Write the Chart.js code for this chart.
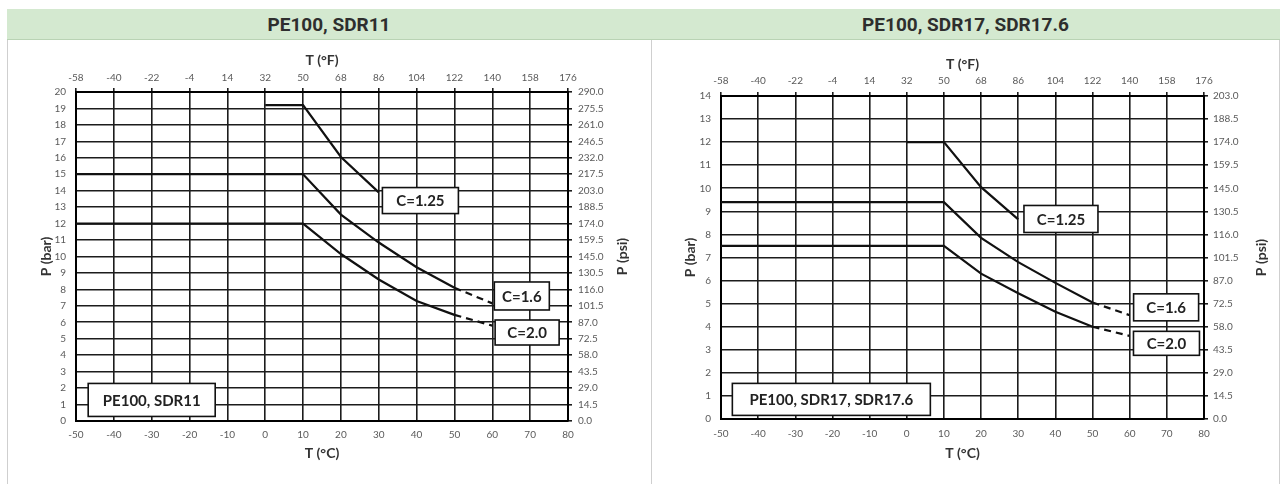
<!DOCTYPE html>
<html>
<head>
    <title>PE100 pressure / temperature derating</title>
    <script src="https://cdn.jsdelivr.net/npm/chart.js"></script>
    <style>
        body {margin: 0; width: 1280px; height: 484px; overflow: hidden; background: #fff; position: relative;}
        .hdr {position: absolute; top: 9px; height: 30px; background: #d4e9d0; border-bottom: 1px solid #b9d3b4;
              font: bold 19px Roboto, sans-serif; color: #2e2e2e; text-align: center; line-height: 31px;}
        .panel {position: absolute; top: 40px; height: 444px; border-right: 1px solid #cfcfcf;}
        canvas {position: absolute; top: 1px;}
    </style>
</head>
<body>
    <div class="hdr" style="left: 7px; width: 644px;">PE100, SDR11</div>
    <div class="hdr" style="left: 651px; width: 629px;">PE100, SDR17, SDR17.6</div>
    <div class="panel" style="left: 7px; width: 643px; border-left: 1px solid #cfcfcf;">
        <canvas id="chartLeft" width="642" height="443" style="left: 0;"></canvas>
    </div>
    <div class="panel" style="left: 651px; width: 628px;">
        <canvas id="chartRight" width="627" height="443" style="left: 0;"></canvas>
    </div>
    <script>
        // tick labels
        var cTicks = [-50, -40, -30, -20, -10, 0, 10, 20, 30, 40, 50, 60, 70, 80];
        var fTicks = [-58, -40, -22, -4, 14, 32, 50, 68, 86, 104, 122, 140, 158, 176];
        var barTicks11 = [0, 1, 2, 3, 4, 5, 6, 7, 8, 9, 10, 11, 12, 13, 14, 15, 16, 17, 18, 19, 20];
        var psiTicks11 = [0, 14.5, 29, 43.5, 58, 72.5, 87, 101.5, 116, 130.5, 145, 159.5, 174, 188.5,
                          203, 217.5, 232, 246.5, 261, 275.5, 290];
        var barTicks17 = [0, 1, 2, 3, 4, 5, 6, 7, 8, 9, 10, 11, 12, 13, 14];
        var psiTicks17 = [0, 14.5, 29, 43.5, 58, 72.5, 87, 101.5, 116, 130.5, 145, 159.5, 174, 188.5, 203];

        // temperatures (°C)
        var tempShort = [0, 10, 20, 30];
        var tempLong = [-50, 10, 20, 30, 40, 50, 60];

        // SDR11 pressures (bar)
        var sdr11C125 = [19.2, 19.2, 16.05, 13.9];
        var sdr11C16 = [15.0, 15.0, 12.55, 10.85, 9.35, 8.1, 7.15];
        var sdr11C20 = [12.0, 12.0, 10.15, 8.6, 7.3, 6.45, 5.8];

        // SDR17 / SDR17.6 pressures (bar)
        var sdr17C125 = [12.0, 12.0, 10.05, 8.65];
        var sdr17C16 = [9.4, 9.4, 7.85, 6.8, 5.9, 5.05, 4.5];
        var sdr17C20 = [7.5, 7.5, 6.3, 5.45, 4.65, 4.0, 3.6];

        Chart.defaults.font.family = 'Lato, "Open Sans", sans-serif';

        function pts(xs, ys) {
            return xs.map(function(x, i) { return {x: x, y: ys[i]}; });
        }
        function curve(xs, ys) {
            return {
                data: pts(xs, ys),
                borderColor: '#111',
                borderWidth: 2.2,
                pointRadius: 0,
                fill: false,
                tension: 0,
                segment: {
                    borderDash: function(ctx) { return ctx.p0.parsed.x >= 50 ? [7, 5] : undefined; }
                }
            };
        }
        function setTicks(arr) {
            return function(scale) { scale.ticks = arr.map(function(v) { return {value: v}; }); };
        }
        function fixW(w) { return function(s) { s.width = w; }; }
        function fixH(h) { return function(s) { s.height = h; }; }

        // white label boxes, plus right axis title reading bottom-to-top
        var boxPlugin = {
            id: 'boxes',
            afterDatasetsDraw: function(chart, args, opts) {
                var ctx = chart.ctx, x = chart.scales.x, y = chart.scales.y;
                ctx.save();
                opts.items.forEach(function(b) {
                    var cx = x.getPixelForValue(b.x), cy = y.getPixelForValue(b.y);
                    ctx.fillStyle = '#fff';
                    ctx.fillRect(cx - b.w / 2, cy - b.h / 2, b.w, b.h);
                    ctx.strokeStyle = '#111';
                    ctx.lineWidth = 1.6;
                    ctx.strokeRect(cx - b.w / 2, cy - b.h / 2, b.w, b.h);
                    ctx.fillStyle = '#222';
                    ctx.font = 'bold 15px Lato, sans-serif';
                    ctx.textAlign = 'center';
                    ctx.textBaseline = 'middle';
                    ctx.fillText(b.text, cx, cy + 1);
                });
                var area = chart.chartArea;
                ctx.translate(chart.width - opts.psiOffset, (area.top + area.bottom) / 2);
                ctx.rotate(-Math.PI / 2);
                ctx.fillStyle = '#333';
                ctx.font = 'bold 14px Lato, sans-serif';
                ctx.textAlign = 'center';
                ctx.textBaseline = 'middle';
                ctx.fillText('P (psi)', 0, 0);
                ctx.restore();
            }
        };

        function makeChart(id, sets, t) {
            var tickFont = {size: 10};
            var titleFont = {size: 14, weight: 'bold'};
            var gridCol = '#1c1c1c';
            new Chart(document.getElementById(id), {
                type: 'line',
                data: {datasets: sets},
                plugins: [boxPlugin],
                options: {
                    responsive: false,
                    animation: false,
                    layout: {padding: 0},
                    plugins: {
                        legend: {display: false},
                        tooltip: {enabled: false},
                        boxes: {items: t.boxes, psiOffset: t.psiOff}
                    },
                    scales: {
                        x: {
                            type: 'linear', position: 'bottom', min: -50, max: 80,
                            afterBuildTicks: setTicks(cTicks), afterFit: fixH(t.bottomH),
                            grid: {color: gridCol, lineWidth: 1.6, drawTicks: false},
                            border: {color: '#000', width: 2},
                            ticks: {font: tickFont, color: '#5a5a5a', padding: t.xPad, autoSkip: false, maxRotation: 0},
                            title: {display: true, text: 'T (°C)', font: titleFont, color: '#333', padding: {bottom: t.cTitle}}
                        },
                        x2: {
                            type: 'linear', position: 'top', min: -58, max: 176,
                            afterBuildTicks: setTicks(fTicks), afterFit: fixH(t.topH),
                            grid: {drawOnChartArea: false, color: gridCol, tickLength: 4, lineWidth: 1.6},
                            border: {color: '#000', width: 2},
                            ticks: {font: tickFont, color: '#5a5a5a', padding: t.x2Pad, autoSkip: false, maxRotation: 0},
                            title: {display: true, text: 'T (°F)', font: titleFont, color: '#333', padding: {top: t.fTitle}}
                        },
                        y: {
                            type: 'linear', position: 'left', min: 0, max: t.barMax,
                            afterBuildTicks: setTicks(t.barTicks), afterFit: fixW(t.leftW),
                            grid: {color: gridCol, lineWidth: 1.6, drawTicks: false},
                            border: {color: '#000', width: 2},
                            ticks: {font: tickFont, color: '#5a5a5a', padding: t.yPad, autoSkip: false},
                            title: {display: true, text: 'P (bar)', font: titleFont, color: '#333', padding: {top: t.barTitle}}
                        },
                        y2: {
                            type: 'linear', position: 'right', min: 0, max: t.psiMax,
                            afterBuildTicks: setTicks(t.psiTicks), afterFit: fixW(t.rightW),
                            grid: {drawOnChartArea: false, color: gridCol, tickLength: 4, lineWidth: 1.6},
                            border: {color: '#000', width: 2},
                            ticks: {font: tickFont, color: '#5a5a5a', padding: t.y2Pad, autoSkip: false,
                                    callback: function(v) { return v.toFixed(1); }}
                        }
                    }
                }
            });
        }

        makeChart('chartLeft', [
            curve(tempShort, sdr11C125),
            curve(tempLong, sdr11C16),
            curve(tempLong, sdr11C20)
        ], {
            barMax: 20, barTicks: barTicks11, psiMax: 290, psiTicks: psiTicks11,
            leftW: 68, rightW: 82, topH: 51, bottomH: 63,
            xPad: 8, x2Pad: 4, yPad: 10, y2Pad: 6,
            cTitle: 22, fTitle: 11, barTitle: 30, psiOff: 28,
            boxes: [
                {text: 'C=1.25', x: 41, y: 13.4, w: 76, h: 26},
                {text: 'C=1.6', x: 67.8, y: 7.6, w: 55, h: 28},
                {text: 'C=2.0', x: 69.2, y: 5.38, w: 64, h: 25},
                {text: 'PE100, SDR11', x: -30, y: 1.28, w: 127, h: 33}
            ]
        });

        makeChart('chartRight', [
            curve(tempShort, sdr17C125),
            curve(tempLong, sdr17C16),
            curve(tempLong, sdr17C20)
        ], {
            barMax: 14, barTicks: barTicks17, psiMax: 203, psiTicks: psiTicks17,
            leftW: 70, rightW: 74, topH: 55, bottomH: 65,
            xPad: 9, x2Pad: 5, yPad: 10, y2Pad: 5,
            cTitle: 22, fTitle: 15, barTitle: 31, psiOff: 17,
            boxes: [
                {text: 'C=1.25', x: 41.5, y: 8.67, w: 74, h: 27},
                {text: 'C=1.6', x: 69.8, y: 4.84, w: 65, h: 27},
                {text: 'C=2.0', x: 69.9, y: 3.28, w: 66, h: 24},
                {text: 'PE100, SDR17, SDR17.6', x: -20.3, y: 0.85, w: 198, h: 32}
            ]
        });
    </script>
</body>
</html>
